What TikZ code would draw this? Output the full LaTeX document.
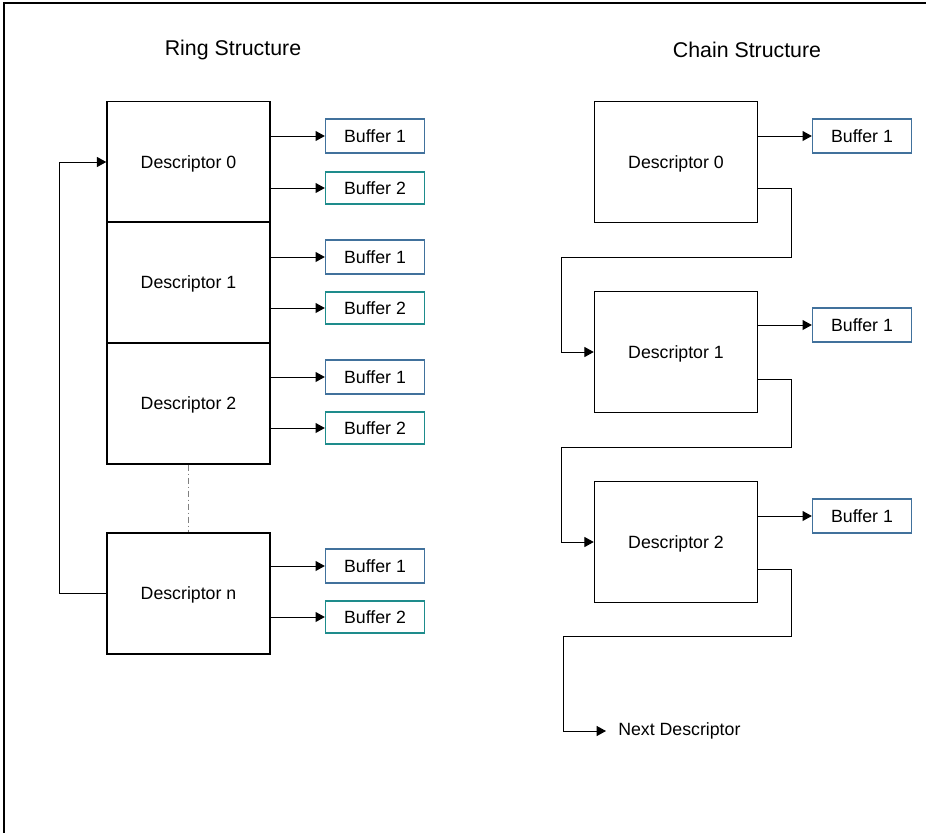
\documentclass[tikz,border=0pt]{standalone}
\usepackage{fontspec}
\setmainfont{Liberation Sans}
\usetikzlibrary{arrows.meta,calc}
\definecolor{bufa}{HTML}{41719C}
\definecolor{bufb}{HTML}{1E8C8C}
\begin{document}
\begin{tikzpicture}[x=0.75pt,y=-0.75pt,
  lbl/.style={font=\fontsize{13.3}{15}\selectfont},
  desc/.style={draw,lbl,line width=1.1pt,minimum width=122.25pt,minimum height=90.5pt,inner sep=0pt,text depth=0pt,yshift=-1.5pt},
  bufone/.style={draw=bufa,lbl,line width=1pt,minimum width=74.25pt,minimum height=25.5pt,inner sep=0pt},
  buftwo/.style={draw=bufb,lbl,line width=1pt,minimum width=74.25pt,minimum height=24pt,inner sep=0pt},
  arr/.style={line width=0.75pt,-{Triangle[length=7pt,width=7.5pt]}},
  ttl/.style={font=\fontsize{16}{19}\selectfont}]
\useasboundingbox (0,0) rectangle (926,833);
\draw[line width=1.1pt] (4,833) -- (4,3) -- (926,3);
% titles
\node[ttl] (tr) at (233,50) {Ring Structure};
\node[ttl] (tc) at (747,50) {Chain Structure};
% ring
\node[desc] (d0) at (188.5,160) {Descriptor 0};
\node[desc] (d1) at (188.5,280.5) {Descriptor 1};
\node[desc] (d2) at (188.5,401.5) {Descriptor 2};
\node[desc] (dn) at (188.5,591.5) {Descriptor n};
\draw[gray,line width=0.9pt,dash pattern=on 4.5pt off 2.25pt on 0.75pt off 2.25pt] (d2.south) -- (dn.north);
\node[bufone] (b01) at (375,136) {Buffer 1};
\node[buftwo] (b02) at (375,188) {Buffer 2};
\node[bufone] (b11) at (375,257) {Buffer 1};
\node[buftwo] (b12) at (375,308) {Buffer 2};
\node[bufone] (b21) at (375,377) {Buffer 1};
\node[buftwo] (b22) at (375,428) {Buffer 2};
\node[bufone] (bn1) at (375,566) {Buffer 1};
\node[buftwo] (bn2) at (375,617) {Buffer 2};
\foreach \d/\b in {d0/b01,d0/b02,d1/b11,d1/b12,d2/b21,d2/b22,dn/bn1,dn/bn2}
  \draw[arr] (\d.east |- \b) -- (\b.west);
\draw[arr] (dn.west) -- ++(-47,0) |- (d0.west);
% chain
\node[desc] (c0) at (676,160) {Descriptor 0};
\node[desc] (c1) at (676,350) {Descriptor 1};
\node[desc] (c2) at (676,540) {Descriptor 2};
\node[bufone] (cb0) at (862,136) {Buffer 1};
\node[bufone] (cb1) at (862,325) {Buffer 1};
\node[bufone] (cb2) at (862,516) {Buffer 1};
\foreach \d/\b in {c0/cb0,c1/cb1,c2/cb2}
  \draw[arr] (\d.east |- \b) -- (\b.west);
\node[lbl,anchor=west,inner xsep=9pt,inner ysep=0pt] (nx) at (606,731) {Next Descriptor};
\draw[arr] ($(c0.south east)+(0,-35)$) -- ++(33,0) |- ($(c1.west)+(-32,-95)$) |- (c1.west);
\draw[arr] ($(c1.south east)+(0,-34)$) -- ++(33,0) |- ($(c2.west)+(-32,-95)$) |- (c2.west);
\draw[arr] ($(c2.south east)+(0,-34)$) -- ++(33,0) |- ($(nx.west)+(-43,-95)$) |- (nx.west);
\end{tikzpicture}
\end{document}
